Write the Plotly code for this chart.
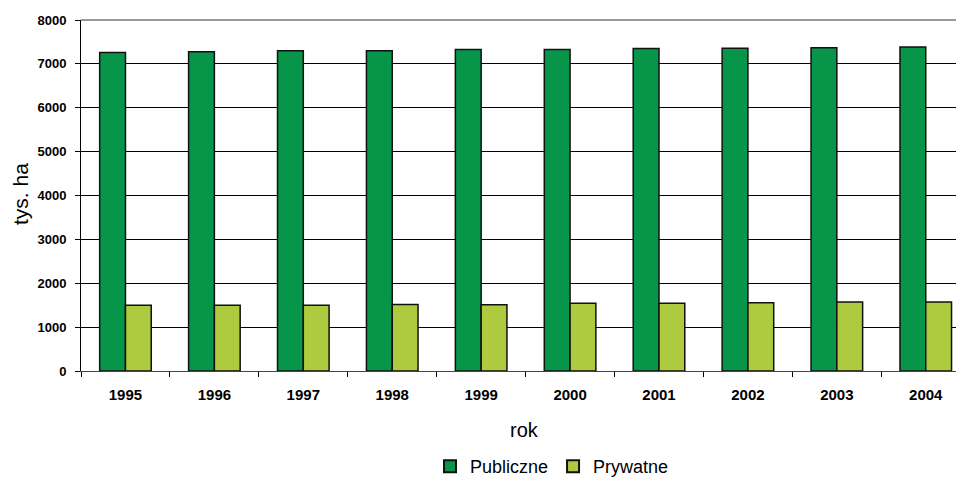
import plotly.graph_objects as go

years = ["1995", "1996", "1997", "1998", "1999", "2000", "2001", "2002", "2003", "2004"]
publiczne = [7262, 7278, 7300, 7300, 7330, 7325, 7352, 7355, 7370, 7385]
prywatne = [1497, 1497, 1497, 1518, 1511, 1543, 1543, 1557, 1572, 1573]

y_ticks = [0, 1000, 2000, 3000, 4000, 5000, 6000, 7000, 8000]

FONT = "Liberation Sans, Arial, sans-serif"
DARK = "#07954A"
LIGHT = "#AECB3F"

# the page body adds an 8px offset, so the figure is laid out 8px smaller
OFF = 8
W, H = 964 - OFF, 479 - OFF
L, T = 81 - OFF, 20 - OFF
BOTTOM = 371 - OFF
B = H - BOTTOM
PW = W - L
PH = BOTTOM - T


def px_x(x):
    return (x - OFF - L) / PW


def px_y(y):
    return (BOTTOM - (y - OFF)) / PH


fig = go.Figure()
fig.add_trace(go.Bar(x=years, y=publiczne, name="Publiczne",
                     marker=dict(color=DARK, line=dict(color="#111111", width=1.5))))
fig.add_trace(go.Bar(x=years, y=prywatne, name="Prywatne",
                     marker=dict(color=LIGHT, line=dict(color="#111111", width=1.5))))

fig.update_layout(
    width=W, height=H,
    margin=dict(l=L, r=0, t=T, b=B, autoexpand=False),
    paper_bgcolor="white", plot_bgcolor="white",
    barmode="group", bargap=0.42, bargroupgap=0,
    font=dict(family=FONT, color="black"),
    showlegend=True,
    legend=dict(orientation="h", x=px_x(430), xanchor="left",
                y=px_y(448), yanchor="top",
                font=dict(size=18, family=FONT, color="black"),
                itemsizing="constant", traceorder="normal", itemwidth=30),
    xaxis=dict(
        type="category",
        range=[-0.5, 9.43],
        automargin=False,
        tickson="boundaries",
        ticks="outside", ticklen=5, tickcolor="black",
        showline=True, linecolor="#444444", linewidth=1,
        showgrid=False,
        ticklabelstandoff=10,
        tickfont=dict(size=15, family=FONT, color="black", weight="bold"),
    ),
    yaxis=dict(
        range=[0, 8000],
        automargin=False,
        tickvals=y_ticks,
        ticks="outside", ticklen=5, tickcolor="black",
        showline=True, linecolor="black", linewidth=1,
        showgrid=True, gridcolor="black", gridwidth=1,
        zeroline=False,
        ticklabelstandoff=6,
        tickfont=dict(size=13, family=FONT, color="black", weight="bold"),
    ),
    annotations=[
        dict(text="tys. ha", xref="paper", yref="paper",
             x=px_x(20), y=px_y(194), xanchor="center", yanchor="middle",
             textangle=-90, showarrow=False,
             font=dict(size=21, family=FONT, color="black")),
        dict(text="rok", xref="paper", yref="paper",
             x=px_x(524), y=px_y(430), xanchor="center", yanchor="middle",
             showarrow=False,
             font=dict(size=20, family=FONT, color="black")),
    ],
)

fig.add_shape(type="line", xref="paper", yref="paper", x0=0, x1=1, y0=1, y1=1,
              line=dict(color="#999999", width=2))

fig.write_html("out.html")
